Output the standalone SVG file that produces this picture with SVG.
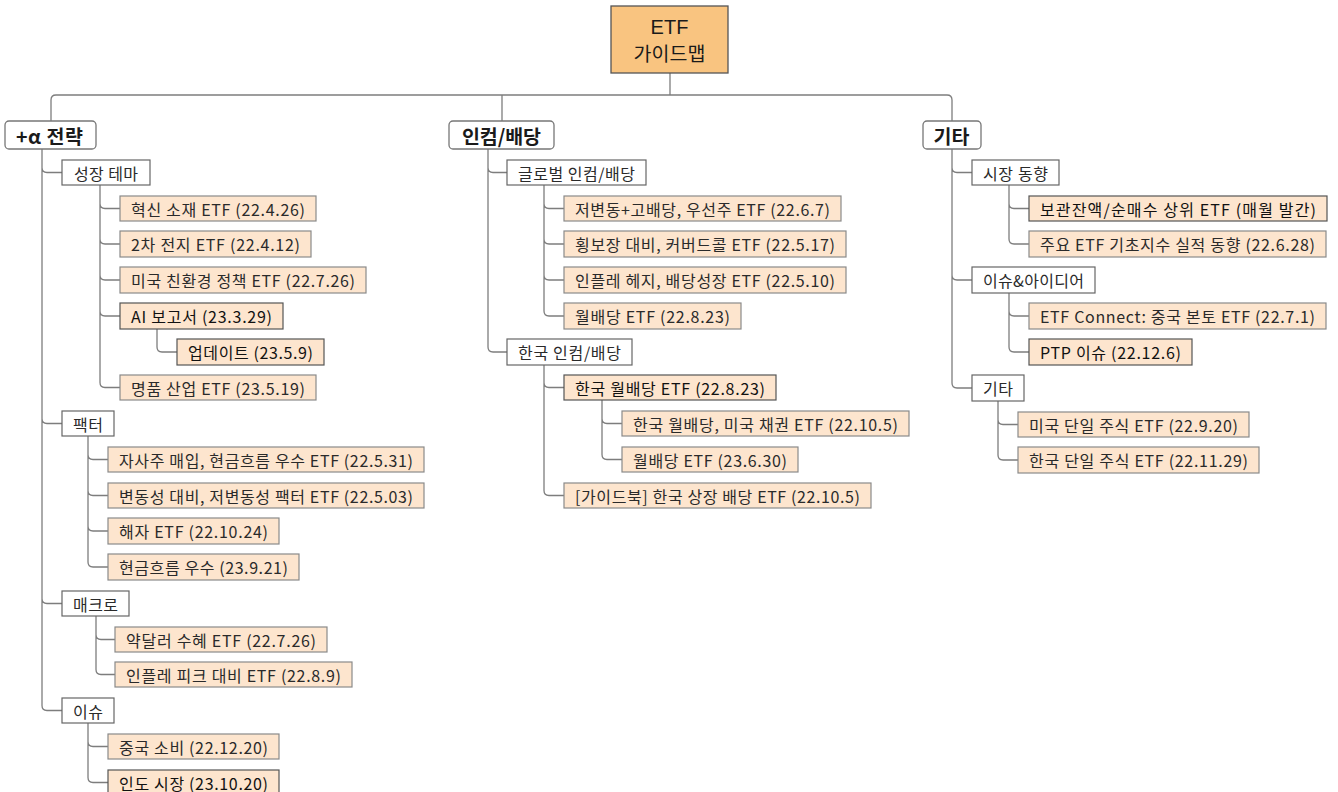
<svg xmlns="http://www.w3.org/2000/svg" width="1338" height="792" viewBox="0 0 1338 792">
<style>
text{font-family:"Noto Sans CJK KR","Noto Sans",sans-serif;fill:#2a2a2a;text-anchor:middle;dominant-baseline:central}
.c{fill:none;stroke:#7d7d7d;stroke-width:1.3}
.root{fill:#F9C480;stroke:#555;stroke-width:1.3}
.l1{fill:#fff;stroke:#777;stroke-width:1.3}
.l2{fill:#fff;stroke:#666;stroke-width:1.2}
.lf{fill:#FDE5CE;stroke:#8a8a8a;stroke-width:1.2}
.hl{stroke:#555}
.t0{font-size:19.5px;fill:#1a1a1a;dominant-baseline:auto}
.te{font-family:"Liberation Sans",Arial,sans-serif;font-size:20px}
.t1{font-size:19.5px;font-weight:bold;fill:#1a1a1a}
.t2{font-size:16px}
.t3{font-size:16px}
.d{fill:#111}
</style>
<rect width="1338" height="792" fill="#fff"/>
<g id="connectors">
<path class="c" d="M670,73 V95"/>
<path class="c" d="M51,121 V100 Q51,95 56,95 H947 Q952,95 952,100 V121"/>
<path class="c" d="M502,95 V121"/>
<path class="c" d="M42,149 V167.5 Q42,172.5 47,172.5 H62 M42,149 V418.5 Q42,423.5 47,423.5 H62 M42,149 V598.5 Q42,603.5 47,603.5 H62 M42,149 V705.5 Q42,710.5 47,710.5 H62"/>
<path class="c" d="M100,185 V203.5 Q100,208.5 105,208.5 H120 M100,185 V239 Q100,244 105,244 H120 M100,185 V275 Q100,280 105,280 H120 M100,185 V311 Q100,316 105,316 H120 M100,185 V382.5 Q100,387.5 105,387.5 H120"/>
<path class="c" d="M157,329 V347 Q157,352 162,352 H177"/>
<path class="c" d="M88,436 V454.5 Q88,459.5 93,459.5 H108 M88,436 V490.5 Q88,495.5 93,495.5 H108 M88,436 V526 Q88,531 93,531 H108 M88,436 V562 Q88,567 93,567 H108"/>
<path class="c" d="M96,616 V634.5 Q96,639.5 101,639.5 H115 M96,616 V669.5 Q96,674.5 101,674.5 H115"/>
<path class="c" d="M88,723 V741.5 Q88,746.5 93,746.5 H108 M88,723 V777.5 Q88,782.5 93,782.5 H108"/>
<path class="c" d="M488,149 V167.5 Q488,172.5 493,172.5 H507 M488,149 V347 Q488,352 493,352 H507"/>
<path class="c" d="M544,185 V203.5 Q544,208.5 549,208.5 H564 M544,185 V239 Q544,244 549,244 H564 M544,185 V275 Q544,280 549,280 H564 M544,185 V311 Q544,316 549,316 H564"/>
<path class="c" d="M544,365 V382.5 Q544,387.5 549,387.5 H564 M544,365 V490.5 Q544,495.5 549,495.5 H564"/>
<path class="c" d="M602,400 V418.5 Q602,423.5 607,423.5 H622 M602,400 V454.5 Q602,459.5 607,459.5 H622"/>
<path class="c" d="M952,149 V167.5 Q952,172.5 957,172.5 H972 M952,149 V275 Q952,280 957,280 H972 M952,149 V383 Q952,388 957,388 H972"/>
<path class="c" d="M1009,185 V203.5 Q1009,208.5 1014,208.5 H1029 M1009,185 V239 Q1009,244 1014,244 H1029"/>
<path class="c" d="M1009,293 V311 Q1009,316 1014,316 H1029 M1009,293 V347 Q1009,352 1014,352 H1029"/>
<path class="c" d="M998,401 V419.5 Q998,424.5 1003,424.5 H1018 M998,401 V455 Q998,460 1003,460 H1018"/>
</g>
<g id="root"><rect class="root" x="611" y="6" width="117" height="67"/><text class="t0 te" x="669.5" y="34">ETF</text><text class="t0" x="669.5" y="60.5">가이드맵</text></g>
<g id="n-alpha"><rect class="l1" x="5" y="121" width="91" height="28" rx="4"/><text class="t1" x="49.5" y="135" textLength="67" lengthAdjust="spacing">+α 전략</text></g>
<g id="n-income"><rect class="l1" x="449" y="121" width="105" height="28" rx="4"/><text class="t1" x="501.5" y="135" textLength="79" lengthAdjust="spacing">인컴/배당</text></g>
<g id="n-etc"><rect class="l1" x="923" y="121" width="58" height="28" rx="4"/><text class="t1" x="951.5" y="135">기타</text></g>

<g id="n-growth"><rect class="l2" x="62" y="160" width="88" height="25"/><text class="t2" x="106" y="172.5" textLength="64" lengthAdjust="spacing">성장 테마</text></g>
<g id="n-g1"><rect class="lf" x="120" y="196" width="196" height="25"/><text class="t3" x="218" y="208.5" textLength="174" lengthAdjust="spacing">혁신 소재 ETF (22.4.26)</text></g>
<g id="n-g2"><rect class="lf" x="120" y="231" width="191" height="26"/><text class="t3" x="215.5" y="244" textLength="169" lengthAdjust="spacing">2차 전지 ETF (22.4.12)</text></g>
<g id="n-g3"><rect class="lf" x="120" y="267" width="246" height="26"/><text class="t3" x="243" y="280" textLength="224" lengthAdjust="spacing">미국 친환경 정책 ETF (22.7.26)</text></g>
<g id="n-g4"><rect class="lf hl" x="120" y="303" width="163" height="26"/><text class="t3 d" x="201.5" y="316" textLength="141" lengthAdjust="spacing">AI 보고서 (23.3.29)</text></g>
<g id="n-g4a"><rect class="lf hl" x="177" y="339" width="147" height="26"/><text class="t3 d" x="250.5" y="352" textLength="125" lengthAdjust="spacing">업데이트 (23.5.9)</text></g>
<g id="n-g5"><rect class="lf" x="120" y="375" width="196" height="25"/><text class="t3" x="218" y="387.5" textLength="174" lengthAdjust="spacing">명품 산업 ETF (23.5.19)</text></g>

<g id="n-factor"><rect class="l2" x="62" y="411" width="52" height="25"/><text class="t2" x="88" y="423.5" textLength="30" lengthAdjust="spacing">팩터</text></g>
<g id="n-f1"><rect class="lf" x="108" y="447" width="316" height="25"/><text class="t3" x="266" y="459.5" textLength="294" lengthAdjust="spacing">자사주 매입, 현금흐름 우수 ETF (22.5.31)</text></g>
<g id="n-f2"><rect class="lf" x="108" y="483" width="316" height="25"/><text class="t3" x="266" y="495.5" textLength="294" lengthAdjust="spacing">변동성 대비, 저변동성 팩터 ETF (22.5.03)</text></g>
<g id="n-f3"><rect class="lf" x="108" y="518" width="171" height="26"/><text class="t3" x="193.5" y="531" textLength="149" lengthAdjust="spacing">해자 ETF (22.10.24)</text></g>
<g id="n-f4"><rect class="lf" x="108" y="554" width="191" height="26"/><text class="t3" x="203.5" y="567" textLength="169" lengthAdjust="spacing">현금흐름 우수 (23.9.21)</text></g>

<g id="n-macro"><rect class="l2" x="62" y="591" width="67" height="25"/><text class="t2" x="95.5" y="603.5" textLength="45" lengthAdjust="spacing">매크로</text></g>
<g id="n-m1"><rect class="lf" x="115" y="627" width="212" height="25"/><text class="t3" x="221" y="639.5" textLength="190" lengthAdjust="spacing">약달러 수혜 ETF (22.7.26)</text></g>
<g id="n-m2"><rect class="lf" x="115" y="662" width="237" height="25"/><text class="t3" x="233.5" y="674.5" textLength="215" lengthAdjust="spacing">인플레 피크 대비 ETF (22.8.9)</text></g>

<g id="n-issue"><rect class="l2" x="62" y="698" width="52" height="25"/><text class="t2" x="88" y="710.5" textLength="30" lengthAdjust="spacing">이슈</text></g>
<g id="n-i1"><rect class="lf" x="108" y="734" width="171" height="25"/><text class="t3" x="193.5" y="746.5" textLength="149" lengthAdjust="spacing">중국 소비 (22.12.20)</text></g>
<g id="n-i2"><rect class="lf hl" x="108" y="770" width="171" height="26"/><text class="t3 d" x="193.5" y="782.5" textLength="149" lengthAdjust="spacing">인도 시장 (23.10.20)</text></g>

<g id="n-global"><rect class="l2" x="507" y="160" width="139" height="25"/><text class="t2" x="576.5" y="172.5" textLength="117" lengthAdjust="spacing">글로벌 인컴/배당</text></g>
<g id="n-gl1"><rect class="lf" x="564" y="196" width="277" height="25"/><text class="t3" x="702.5" y="208.5" textLength="255" lengthAdjust="spacing">저변동+고배당, 우선주 ETF (22.6.7)</text></g>
<g id="n-gl2"><rect class="lf" x="564" y="231" width="282" height="26"/><text class="t3" x="705" y="244" textLength="260" lengthAdjust="spacing">횡보장 대비, 커버드콜 ETF (22.5.17)</text></g>
<g id="n-gl3"><rect class="lf" x="564" y="267" width="282" height="26"/><text class="t3" x="705" y="280" textLength="260" lengthAdjust="spacing">인플레 헤지, 배당성장 ETF (22.5.10)</text></g>
<g id="n-gl4"><rect class="lf" x="564" y="303" width="177" height="26"/><text class="t3" x="652.5" y="316" textLength="155" lengthAdjust="spacing">월배당 ETF (22.8.23)</text></g>

<g id="n-korea"><rect class="l2" x="507" y="339" width="125" height="26"/><text class="t2" x="569.5" y="352" textLength="103" lengthAdjust="spacing">한국 인컴/배당</text></g>
<g id="n-k1"><rect class="lf hl" x="564" y="375" width="212" height="25"/><text class="t3 d" x="670" y="387.5" textLength="190" lengthAdjust="spacing">한국 월배당 ETF (22.8.23)</text></g>
<g id="n-k1a"><rect class="lf" x="622" y="411" width="287" height="25"/><text class="t3" x="765.5" y="423.5" textLength="265" lengthAdjust="spacing">한국 월배당, 미국 채권 ETF (22.10.5)</text></g>
<g id="n-k1b"><rect class="lf" x="622" y="447" width="176" height="25"/><text class="t3" x="710" y="459.5" textLength="154" lengthAdjust="spacing">월배당 ETF (23.6.30)</text></g>
<g id="n-k2"><rect class="lf" x="564" y="483" width="307" height="25"/><text class="t3" x="717.5" y="495.5" textLength="285" lengthAdjust="spacing">[가이드북] 한국 상장 배당 ETF (22.10.5)</text></g>

<g id="n-market"><rect class="l2" x="972" y="160" width="87" height="25"/><text class="t2" x="1015.5" y="172.5" textLength="65" lengthAdjust="spacing">시장 동향</text></g>
<g id="n-mk1"><rect class="lf hl" x="1029" y="196" width="298" height="25"/><text class="t3 d" x="1178" y="208.5" textLength="276" lengthAdjust="spacing">보관잔액/순매수 상위 ETF (매월 발간)</text></g>
<g id="n-mk2"><rect class="lf" x="1029" y="231" width="297" height="26"/><text class="t3" x="1177.5" y="244" textLength="275" lengthAdjust="spacing">주요 ETF 기초지수 실적 동향 (22.6.28)</text></g>

<g id="n-idea"><rect class="l2" x="972" y="267" width="123" height="26"/><text class="t2" x="1033.5" y="280" textLength="101" lengthAdjust="spacing">이슈&amp;아이디어</text></g>
<g id="n-id1"><rect class="lf" x="1029" y="303" width="297" height="26"/><text class="t3" x="1177.5" y="316" textLength="275" lengthAdjust="spacing">ETF Connect: 중국 본토 ETF (22.7.1)</text></g>
<g id="n-id2"><rect class="lf hl" x="1029" y="339" width="163" height="26"/><text class="t3 d" x="1110.5" y="352" textLength="141" lengthAdjust="spacing">PTP 이슈 (22.12.6)</text></g>

<g id="n-etc2"><rect class="l2" x="972" y="375" width="52" height="26"/><text class="t2" x="998" y="388" textLength="30" lengthAdjust="spacing">기타</text></g>
<g id="n-e1"><rect class="lf" x="1018" y="412" width="231" height="25"/><text class="t3" x="1133.5" y="424.5" textLength="209" lengthAdjust="spacing">미국 단일 주식 ETF (22.9.20)</text></g>
<g id="n-e2"><rect class="lf" x="1018" y="447" width="241" height="26"/><text class="t3" x="1138.5" y="460" textLength="219" lengthAdjust="spacing">한국 단일 주식 ETF (22.11.29)</text></g>
</svg>
